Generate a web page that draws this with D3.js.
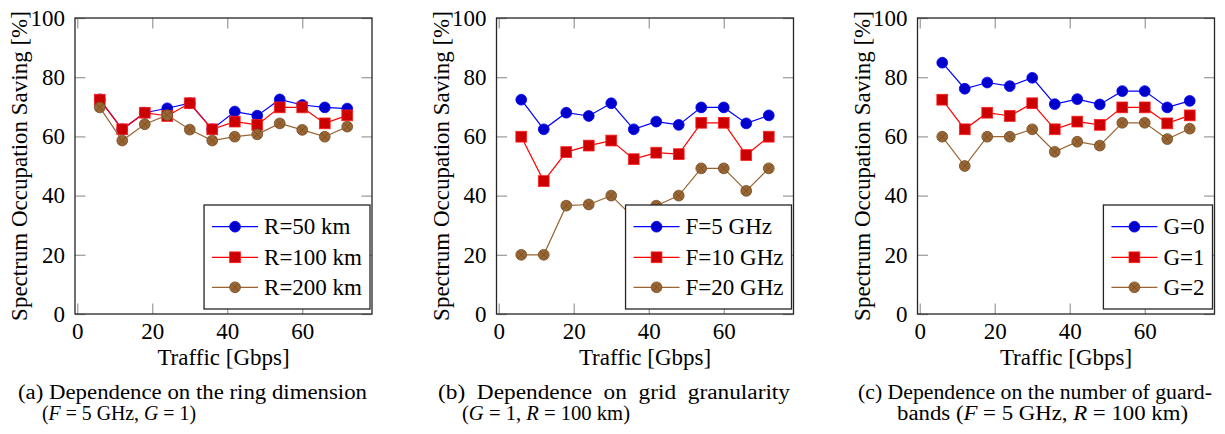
<!DOCTYPE html>
<html>
<head>
<meta charset="utf-8">
<script src="https://cdn.jsdelivr.net/npm/d3@7"></script>
<style>
  body { margin: 0; background: #fff; }
  text { font-family: "Liberation Serif", "DejaVu Serif", serif; fill: #000; }
</style>
</head>
<body>
<div id="chart"></div>
<script>
// Datos
var traffic = [6, 12, 18, 24, 30, 36, 42, 48, 54, 60, 66, 72];
var xTicks = [0, 20, 40, 60];
var yTicks = [0, 20, 40, 60, 80, 100];

// serie comun: F=5 GHz, G=1, R=100 km
var baseSeries = [72.4, 62.4, 68.0, 66.9, 71.2, 62.4, 65.0, 63.9, 69.8, 69.8, 64.4, 67.1];

// (a) dimension del anillo
var ringR50 = [72.5, 62.4, 68.0, 69.5, 71.2, 62.4, 68.4, 67.0, 72.5, 70.6, 69.8, 69.4];
var ringR200 = [69.8, 58.6, 64.1, 67.2, 62.3, 58.6, 59.9, 60.7, 64.4, 62.2, 59.9, 63.3];
var ringLabels = ["R=50 km", "R=100 km", "R=200 km"];

// (b) granularidad de la rejilla
var gridF10 = [59.9, 44.9, 54.7, 56.9, 58.6, 52.3, 54.5, 54.0, 64.6, 64.6, 53.7, 59.9];
var gridF20 = [20.0, 20.0, 36.6, 37.0, 40.0, 32.5, 36.6, 40.0, 49.2, 49.2, 41.6, 49.2];
var gridLabels = ["F=5 GHz", "F=10 GHz", "F=20 GHz"];

// (c) numero de bandas de guarda
var guardG0 = [84.9, 76.1, 78.2, 77.0, 79.8, 70.9, 72.6, 70.8, 75.3, 75.3, 69.8, 72.0];
var guardG2 = [59.9, 50.0, 59.9, 59.9, 62.4, 54.8, 58.2, 56.9, 64.6, 64.6, 59.1, 62.6];
var guardLabels = ["G=0", "G=1", "G=2"];

var panels = [
    {series: [ringR50, baseSeries, ringR200], labels: ringLabels},
    {series: [baseSeries, gridF10, gridF20], labels: gridLabels},
    {series: [guardG0, baseSeries, guardG2], labels: guardLabels}
];

//Lienzo
var width = 1225;
var height = 434;
var svg = d3.select("#chart")
            .append("svg")
            .attr("width", width)
            .attr("height", height);

var panelLeft = [75, 496.5, 917.5];
var plotW = 297;
var plotTop = 18;
var plotBottom = 314;
var fontSize = 23;

var styles = [
    {line: "#0000ff", fill: "#0000cc", stroke: "#0000ff", mark: "circle"},
    {line: "#ff0000", fill: "#cc0000", stroke: "#ff2020", mark: "square"},
    {line: "#996633", fill: "#996633", stroke: "#734d26", mark: "otimes"}
];

function drawMark(g, kind, st, cx, cy) {
    if (kind == "circle") {
        g.append("circle").attr("cx", cx).attr("cy", cy).attr("r", 5.4)
            .attr("fill", st.fill).attr("stroke", st.stroke).attr("stroke-width", 0.8);
    } else if (kind == "square") {
        g.append("rect").attr("x", cx - 5.4).attr("y", cy - 5.4)
            .attr("width", 10.8).attr("height", 10.8)
            .attr("fill", st.fill).attr("stroke", st.stroke).attr("stroke-width", 0.8);
    } else {
        g.append("circle").attr("cx", cx).attr("cy", cy).attr("r", 5.4)
            .attr("fill", st.fill).attr("stroke", st.stroke).attr("stroke-width", 0.8);
        var d = 5.4 * Math.SQRT1_2;
        g.append("path")
            .attr("d", `M${cx - d},${cy - d}L${cx + d},${cy + d}M${cx - d},${cy + d}L${cx + d},${cy - d}`)
            .attr("stroke", st.stroke).attr("stroke-width", 0.8);
    }
}

function drawPanel(p, i) {
    var left = panelLeft[i];
    var x = d3.scaleLinear().domain([-0.6, 78.6]).range([left, left + plotW]);
    var y = d3.scaleLinear().domain([0, 100]).range([plotBottom, plotTop]);

    var g = svg.append("g");

    //Ejes (ticks hacia dentro)
    var axB = g.append("g").attr("transform", `translate(0,${plotBottom})`)
        .call(d3.axisBottom(x).tickValues(xTicks).tickSizeInner(-10.5).tickSizeOuter(0).tickPadding(9));
    var axT = g.append("g").attr("transform", `translate(0,${plotTop})`)
        .call(d3.axisTop(x).tickValues(xTicks).tickSizeInner(-10.5).tickSizeOuter(0).tickFormat(""));
    var axL = g.append("g").attr("transform", `translate(${left},0)`)
        .call(d3.axisLeft(y).tickValues(yTicks).tickSizeInner(-10.5).tickSizeOuter(0).tickPadding(10));
    var axR = g.append("g").attr("transform", `translate(${left + plotW},0)`)
        .call(d3.axisRight(y).tickValues(yTicks).tickSizeInner(-10.5).tickSizeOuter(0).tickFormat(""));

    [axB, axT, axL, axR].forEach(function(a) {
        a.select(".domain").remove();
        a.selectAll(".tick line").attr("stroke", "#a0a0a0").attr("stroke-width", 1.3);
        a.selectAll("text").attr("font-size", fontSize)
            .attr("font-family", "Liberation Serif").attr("fill", "#000");
    });

    //Marco
    g.append("rect")
        .attr("x", left).attr("y", plotTop)
        .attr("width", plotW).attr("height", plotBottom - plotTop)
        .attr("fill", "none").attr("stroke", "#262626").attr("stroke-width", 1.3);

    //Etiquetas de los ejes
    g.append("text")
        .attr("x", left + plotW / 2).attr("y", 365)
        .attr("text-anchor", "middle").attr("font-size", fontSize)
        .text("Traffic [Gbps]");
    g.append("text")
        .attr("transform", `translate(${left - 48},${(plotTop + plotBottom) / 2}) rotate(-90)`)
        .attr("text-anchor", "middle").attr("font-size", fontSize)
        .text("Spectrum Occupation Saving [%]");

    //Series
    var line = d3.line().x((d, j) => x(traffic[j])).y(d => y(d));
    p.series.forEach(function(vals, k) {
        var st = styles[k];
        var sg = g.append("g");
        sg.append("path").datum(vals)
            .attr("d", line).attr("fill", "none")
            .attr("stroke", st.line).attr("stroke-width", 1.2);
        vals.forEach(function(v, j) {
            drawMark(sg, st.mark, st, x(traffic[j]), y(v));
        });
    });

    //Leyenda
    var lg = g.append("g");
    var box = lg.append("rect");
    var texts = [];
    var rowY = [226.7, 257.3, 287.3];
    p.labels.forEach(function(lab, k) {
        texts.push(lg.append("text").attr("y", rowY[k]).attr("dy", "0.33em")
            .attr("font-size", fontSize).text(lab));
    });
    var tw = d3.max(texts, t => t.node().getComputedTextLength());
    var boxW = 60 + tw + 8;
    var boxRight = left + plotW - 2;
    var boxX = boxRight - boxW;
    box.attr("x", boxX).attr("y", 205).attr("width", boxW).attr("height", 104)
        .attr("fill", "#fff").attr("stroke", "#262626").attr("stroke-width", 1.3);
    texts.forEach(t => t.attr("x", boxX + 60));
    p.labels.forEach(function(lab, k) {
        var st = styles[k];
        lg.append("line")
            .attr("x1", boxX + 8).attr("x2", boxX + 54)
            .attr("y1", rowY[k]).attr("y2", rowY[k])
            .attr("stroke", st.line).attr("stroke-width", 1.2);
        drawMark(lg, st.mark, st, boxX + 31, rowY[k]);
    });
}

panels.forEach(drawPanel);

//Pies de figura
var captions = [
    {x1: 18, w1: 349, l1: [["(a) Dependence on the ring dimension", false]],
     x2: 42, w2: 154, l2: [["(", false], ["F", true], [" = 5 GHz, ", false], ["G", true], [" = 1)", false]]},
    {x1: 438, w1: 352, l1: [["(b)  Dependence  on  grid  granularity", false]],
     x2: 462, w2: 168, l2: [["(", false], ["G", true], [" = 1, ", false], ["R", true], [" = 100 km)", false]]},
    {x1: 858, w1: 354, l1: [["(c) Dependence on the number of guard-", false]],
     x2: 897, w2: 291, l2: [["bands (", false], ["F", true], [" = 5 GHz, ", false], ["R", true], [" = 100 km)", false]]}
];

captions.forEach(function(c) {
    [[c.x1, 399, c.w1, c.l1], [c.x2, 420, c.w2, c.l2]].forEach(function(r) {
        var t = svg.append("text")
            .attr("x", r[0]).attr("y", r[1])
            .attr("font-size", 20)
            .attr("textLength", r[2])
            .attr("lengthAdjust", "spacingAndGlyphs")
            .attr("xml:space", "preserve");
        r[3].forEach(function(part) {
            t.append("tspan").attr("font-style", part[1] ? "italic" : "normal").text(part[0]);
        });
    });
});
</script>
</body>
</html>
